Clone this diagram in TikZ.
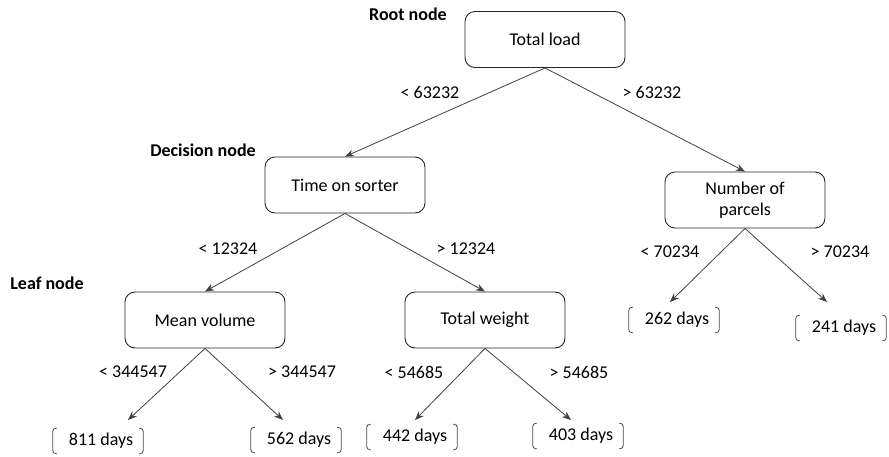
\documentclass[tikz,border=0pt]{standalone}
\usepackage{fontspec}
\setmainfont{Carlito}
\usetikzlibrary{arrows.meta}
\tikzset{
  box/.style={draw=black!85, line width=0.9pt, rounded corners=10pt, minimum width=160pt, minimum height=56pt, align=center, inner sep=2pt},
  leaf/.style={minimum width=90pt, minimum height=25pt, inner sep=0pt},
  bracket/.style={draw=black!70, line width=0.8pt, rounded corners=3pt},
  conn/.style={draw=black!75, line width=0.8pt, -{Stealth[length=9pt,width=7pt]}},
  lab/.style={inner sep=0pt},
  head/.style={inner sep=0pt, font=\fontsize{18}{21}\selectfont\bfseries}
}
\begin{document}
\begin{tikzpicture}[x=1pt,y=-1pt, font=\fontsize{18}{21}\selectfont]
\useasboundingbox (0,0) rectangle (889,456);
% headings
\node[head] (hroot) at (408,14) {Root node};
\node[head] (hdec) at (203,150) {Decision node};
\node[head] (hleaf) at (47,283) {Leaf node};
% boxes
\node[box] (root) at (545,39.5) {Total load};
\node[box] (tos) at (345,185) {Time on sorter};
\node[box, align=center] (nop) at (745,200) {Number of\\parcels};
\node[box] (mv) at (205,320) {Mean volume};
\node[box] (tw) at (485,320) {Total weight};
% leaves
\node[leaf] (l1) at (98,441) {\hspace{6pt}811 days};
\node[leaf] (l2) at (296,440) {\hspace{6pt}562 days};
\node[leaf] (l3) at (412,437) {\hspace{6pt}442 days};
\node[leaf] (l4) at (578,436) {\hspace{6pt}403 days};
\node[leaf] (l5) at (674,320) {\hspace{6pt}262 days};
\node[leaf] (l6) at (841,328) {\hspace{6pt}241 days};
\foreach \n in {l1,l2,l3,l4,l5,l6}{
  \draw[bracket] ([xshift=4pt]\n.north west) -- (\n.north west) -- (\n.south west) -- ([xshift=4pt]\n.south west);
  \draw[bracket] ([xshift=-4pt]\n.north east) -- (\n.north east) -- (\n.south east) -- ([xshift=-4pt]\n.south east);
}
% arrow end points above leaves
\coordinate (t1) at (128,420);
\coordinate (t2) at (283,420);
\coordinate (t3) at (415,420);
\coordinate (t4) at (571,420);
\coordinate (t5) at (670,302);
\coordinate (t6) at (827,302);
% connectors
\draw[conn] (root.south) -- (tos.north);
\draw[conn] (root.south) -- (nop.north);
\draw[conn] (tos.south) -- (mv.north);
\draw[conn] (tos.south) -- (tw.north);
\draw[conn] (mv.south) -- (t1);
\draw[conn] (mv.south) -- (t2);
\draw[conn] (tw.south) -- (t3);
\draw[conn] (tw.south) -- (t4);
\draw[conn] (nop.south) -- (t5);
\draw[conn] (nop.south) -- (t6);
% edge labels
\node[lab] (e1) at (430,92) {< 63232};
\node[lab] (e2) at (652,92) {> 63232};
\node[lab] (e3) at (228,249) {< 12324};
\node[lab] (e4) at (466,249) {> 12324};
\node[lab] (e5) at (670,252) {< 70234};
\node[lab] (e6) at (840,252) {> 70234};
\node[lab] (e7) at (133,372) {< 344547};
\node[lab] (e8) at (302,372) {> 344547};
\node[lab] (e9) at (414,372) {< 54685};
\node[lab] (e10) at (579,372) {> 54685};
\end{tikzpicture}
\end{document}
